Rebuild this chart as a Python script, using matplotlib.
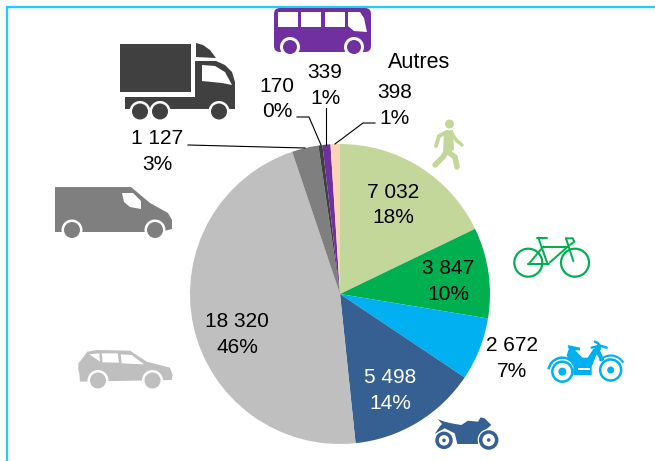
import matplotlib
matplotlib.use("Agg")
import matplotlib.pyplot as plt
from matplotlib.patches import Arc, Circle, FancyBboxPatch, Polygon, Rectangle

plt.rcParams["font.family"] = ["Liberation Sans", "DejaVu Sans"]

# clockwise from 12 o'clock
categories = ["Piétons", "Vélos", "Cyclos", "Motos", "VP", "VUL", "PL", "Bus", "Autres"]
values = [7032, 3847, 2672, 5498, 18320, 1127, 170, 339, 398]
colors = ["#C4D79B", "#00B050", "#00B0F0", "#376092", "#BFBFBF", "#7F7F7F", "#404040", "#7030A0", "#FAD4B6"]
text_colors = ["black", "black", "black", "white", "black", "black", "black", "black", "black"]

# label centres in pixels
label_x = [393, 448, 512, 390, 237, 157.5, 277, 325, 394.5]
label_y = [205, 281.5, 358.5, 390.5, 334.5, 151.5, 99, 85.5, 105.5]

WIDTH, HEIGHT = 655, 461
FONT = 15
FRAME = "#1ACFFA"


def label(value):
    pct = round(100 * value / sum(values))
    return f"{value:,}".replace(",", " ") + f"\n{pct}%"


def poly(ax, pts, color, z=3):
    ax.add_patch(Polygon(pts, closed=True, fc=color, ec="none", zorder=z))


def wheel(ax, x, y, r, color, gap=2.5):
    ax.add_patch(Circle((x, y), r + gap, fc="white", ec="none", zorder=4))
    ax.add_patch(Circle((x, y), r, fc=color, ec="none", zorder=5))


def stroke(ax, xs, ys, color, lw=2.0, z=3):
    ax.plot(xs, ys, color=color, lw=lw * 0.72, solid_capstyle="round", solid_joinstyle="round", zorder=z)


def ring(ax, x, y, r, color, lw=2.0, z=5):
    ax.add_patch(Circle((x, y), r, fc="white", ec=color, lw=lw * 0.72, zorder=z))


def zoomed(pts, x0, y0):
    return [(x0 + a / 3, y0 + b / 3) for a, b in pts]


def draw_truck(ax):
    c = colors[6]
    ax.add_patch(Rectangle((120, 44), 71, 48, fc=c, ec="none", zorder=3))
    poly(ax, [(196, 43), (203, 45), (210, 50), (216, 58), (196, 57)], c)
    poly(ax, [(125, 97), (195, 97), (195, 61), (216, 61), (225, 65), (232, 72), (235, 82), (235, 109), (125, 109)], c)
    poly(ax, [(202, 65), (215, 66), (225, 72), (232, 85), (222, 83), (202, 81)], "white", 4)
    for x in (140, 160, 219):
        wheel(ax, x, 111.5, 8, c)


def draw_van(ax):
    c = colors[5]
    poly(ax, [(55, 187), (131, 187), (150, 203), (168, 213), (172, 220), (172, 229), (160, 232), (55, 232)], c)
    poly(ax, [(122, 193), (133, 193), (141, 201), (141, 209), (130, 207), (124, 202)], "white", 4)
    for x in (72, 155):
        wheel(ax, x, 230, 8, c)


def draw_car(ax):
    c = colors[4]
    body = [(235, 130), (245, 118), (262, 95), (290, 90), (390, 92), (440, 125), (510, 143), (518, 165), (515, 180), (240, 185), (238, 160), (235, 150)]
    poly(ax, zoomed(body, 0, 320), c)
    for w in ([(268, 103), (298, 100), (300, 125)], [(305, 100), (353, 100), (357, 128), (308, 127)], [(362, 103), (395, 105), (432, 133), (365, 130)]):
        poly(ax, zoomed(w, 0, 320), "white", 4)
    for x in (98, 152.5):
        wheel(ax, x, 380.5, 8, c)


def draw_bus(ax):
    c = colors[7]
    ax.add_patch(FancyBboxPatch((277, 11), 91, 38, boxstyle="round,pad=3,rounding_size=6", fc=c, ec="none", zorder=3))
    for x in (278, 301, 325):
        ax.add_patch(Rectangle((x, 12), 19.5, 15, fc="white", ec="none", zorder=4))
    poly(ax, [(348, 12), (360, 12), (364, 18), (367, 32), (354, 31), (348, 26)], "white", 4)
    for x in (290, 354):
        wheel(ax, x, 47, 7, c, gap=3)


def draw_walker(ax):
    c = colors[0]
    ax.add_patch(Circle((449.5, 124), 4.5, fc=c, ec="none", zorder=3))
    poly(ax, [(444, 131), (453, 130), (454, 150), (443, 154)], c)
    stroke(ax, [447, 439, 436], [132, 136, 146], c, 4)
    stroke(ax, [451, 456, 462], [132, 140, 145], c, 3.5)
    stroke(ax, [446, 443, 435], [152, 157, 165], c, 5.5)
    stroke(ax, [448, 455, 457], [152, 157, 167], c, 5.5)


def draw_bike(ax):
    c = colors[1]
    ring(ax, 528.3, 262.7, 14, c, 2.2)
    ring(ax, 575, 262.7, 14, c, 2.2)
    segs = [
        [(100, 38), (128, 118)], [(97, 38), (125, 38)], [(115, 65), (188, 65)],
        [(188, 65), (135, 112)], [(70, 118), (132, 118)], [(70, 118), (115, 65)],
        [(183, 40), (205, 108)], [(183, 40), (203, 40), (208, 50), (195, 60)],
    ]
    for seg in segs:
        pts = zoomed(seg, 505, 225)
        stroke(ax, [p[0] for p in pts], [p[1] for p in pts], c, 2, 6)


def draw_moped(ax):
    c = colors[2]
    x0, y0 = 545, 335
    poly(ax, zoomed([(68, 30), (105, 38), (105, 46), (72, 46)], x0, y0), c)
    frame = [(70, 45), (90, 45), (112, 68), (128, 68), (145, 42), (160, 35), (178, 75), (168, 80), (155, 58), (140, 95), (140, 120), (85, 120), (85, 95), (65, 62)]
    poly(ax, zoomed(frame, x0, y0), c)
    poly(ax, zoomed([(100, 100), (135, 100), (135, 106), (100, 106)], x0, y0), "white", 6)
    for seg in ([(140, 38), (165, 32)], [(150, 20), (160, 25), (165, 42)], [(165, 32), (185, 38)]):
        pts = zoomed(seg, x0, y0)
        stroke(ax, [p[0] for p in pts], [p[1] for p in pts], c, 2.5)
    rx, ry = x0 + 52 / 3, y0 + 110 / 3
    fx, fy = x0 + 197 / 3, y0 + 105 / 3
    ring(ax, rx, ry, 10, c, 2.5)
    ring(ax, fx, fy, 10.5, c, 2.5)
    ax.add_patch(Circle((rx, ry), 4, fc=c, ec="none", zorder=6))
    ax.add_patch(Circle((fx, fy), 3.5, fc=c, ec="none", zorder=6))
    ax.add_patch(Arc((rx, ry), 28, 28, theta1=190, theta2=320, ec=c, lw=1.8, zorder=5))
    ax.add_patch(Arc((fx, fy), 29, 29, theta1=220, theta2=330, ec=c, lw=1.5, zorder=5))


def draw_moto(ax):
    c = colors[3]
    x0, y0 = 428, 410
    body = [(30, 28), (50, 35), (70, 40), (100, 45), (120, 32), (150, 35), (158, 22), (170, 25), (190, 45), (170, 62), (155, 90), (150, 102), (88, 102), (80, 70), (50, 55), (20, 72), (35, 50), (42, 42)]
    poly(ax, zoomed(body, x0, y0), c)
    for x, y, r in ((48, 91, 7), (182, 90, 8)):
        cx, cy = x0 + x / 3, y0 + y / 3
        ax.add_patch(Circle((cx, cy), r + 3, fc="white", ec="none", zorder=4))
        ring(ax, cx, cy, r, c, 3.5)
        ax.add_patch(Circle((cx, cy), 1.8, fc=c, ec="none", zorder=6))


fig = plt.figure(figsize=(WIDTH / 100, HEIGHT / 100), dpi=100)

# pie centred at (340, 294), radius 150 px
pie_ax = fig.add_axes([190 / WIDTH, (HEIGHT - 444) / HEIGHT, 300 / WIDTH, 300 / HEIGHT])
pie_ax.pie(values, colors=colors, startangle=90, counterclock=False, radius=1)
pie_ax.set_xlim(-1, 1)
pie_ax.set_ylim(-1, 1)

# overlay in pixel coordinates for text, leaders, icons and frame
ax = fig.add_axes([0, 0, 1, 1], facecolor="none")
ax.axis("off")

ax.plot([7, 7, WIDTH], [HEIGHT, 7, 7], color=FRAME, lw=1.6, solid_joinstyle="miter", zorder=1)

for v, x, y, tc in zip(values, label_x, label_y, text_colors):
    ax.text(x, y, label(v), ha="center", va="center", fontsize=FONT, color=tc, linespacing=1.42, zorder=8)
ax.text(419.5, 62, "Autres", ha="center", va="center", fontsize=15.5, color="black", zorder=8)

ax.plot([188, 305], [145, 148], color="black", lw=0.8, zorder=7)
ax.plot([297, 309, 321], [117, 117, 145], color="black", lw=0.8, zorder=7)
ax.plot([326, 326], [108, 145], color="black", lw=0.8, zorder=7)
ax.plot([375, 363, 335], [123, 123, 144], color="black", lw=0.8, zorder=7)

draw_truck(ax)
draw_van(ax)
draw_car(ax)
draw_bus(ax)
draw_walker(ax)
draw_bike(ax)
draw_moped(ax)
draw_moto(ax)

ax.set_xlim(0, WIDTH)
ax.set_ylim(HEIGHT, 0)
fig.savefig("out.png", dpi=100)
